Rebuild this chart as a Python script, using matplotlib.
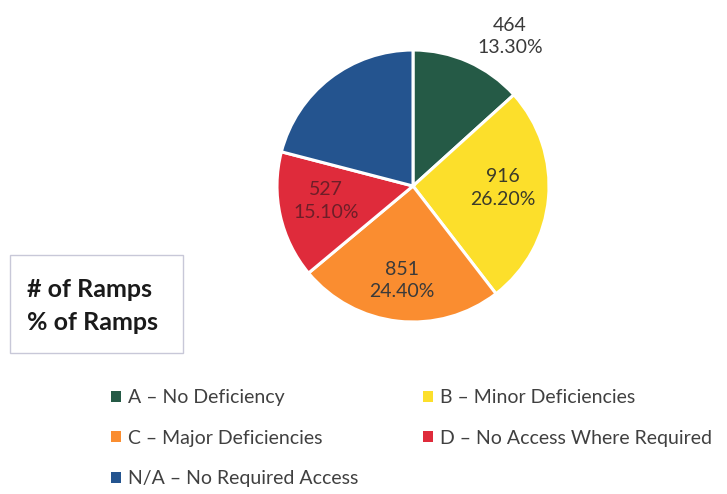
import matplotlib
matplotlib.use("Agg")
import matplotlib.pyplot as plt
import numpy as np
from matplotlib.patches import Patch, FancyBboxPatch

categories = ["A – No Deficiency", "B – Minor Deficiencies", "C – Major Deficiencies",
              "D – No Access Where Required", "N/A – No Required Access"]
counts = [464, 916, 851, 527, 731]
percent_labels = ["13.30%", "26.20%", "24.40%", "15.10%", None]
colors = ["#255A46", "#FCDF2B", "#FA8D30", "#DF2B3B", "#24548F"]

plt.rcParams['font.family'] = ['Lato', 'DejaVu Sans']

W, H = 727, 494
fig = plt.figure(figsize=(W/100, H/100), dpi=100)
cx, cy, r = 413, 186, 136
ax = fig.add_axes([(cx-r)/W, (H-cy-r)/H, 2*r/W, 2*r/H])
wedges, _ = ax.pie(counts, colors=colors, startangle=90, counterclock=False,
                   wedgeprops=dict(edgecolor="white", linewidth=2.2))
ax.set_xlim(-1, 1); ax.set_ylim(-1, 1); ax.set_aspect('equal'); ax.axis('off')

dists = [1.31, 0.66, 0.70, 0.65, None]
angle_shift = [-9, 4, -0.6, -3, 0]
txtcolors = ["#3a3a3a", "#3a3a2a", "#3a3a3a", "#6e1e28", None]
for w, c, p, d, sh, tc in zip(wedges, counts, percent_labels, dists, angle_shift, txtcolors):
    if p is None:
        continue
    ang = np.deg2rad((w.theta1 + w.theta2) / 2 + sh)
    ax.text(d*np.cos(ang), d*np.sin(ang), f"{c}\n{p}", ha='center', va='center',
            fontsize=14, color=tc, linespacing=1.4, clip_on=False)

# info box
box = FancyBboxPatch((10/W, 1-353/H), 173/W, 98/H, boxstyle="square,pad=0",
                     transform=fig.transFigure, facecolor="white", edgecolor="#c8c8d8", linewidth=1)
fig.patches.append(box)
fig.text(27/W, 1-289/H, "# of Ramps", fontsize=18, fontweight='bold', color="#1a1a1a", va='center')
fig.text(27/W, 1-322/H, "% of Ramps", fontsize=18, fontweight='bold', color="#1a1a1a", va='center')

handles = [Patch(facecolor=col, edgecolor='none') for col in colors]
common = dict(loc='upper left', frameon=False, fontsize=14, handlelength=0.5, handleheight=0.5,
              handletextpad=0.35, labelspacing=1.22, borderpad=0, borderaxespad=0,
              labelcolor="#404040")
leg1 = fig.legend([handles[i] for i in (0, 2, 4)], [categories[i] for i in (0, 2, 4)],
                  bbox_to_anchor=(111/W, 1-389/H), **common)
leg2 = fig.legend([handles[i] for i in (1, 3)], [categories[i] for i in (1, 3)],
                  bbox_to_anchor=(423/W, 1-389/H), **common)

fig.savefig("out.png", dpi=100, facecolor="white")
